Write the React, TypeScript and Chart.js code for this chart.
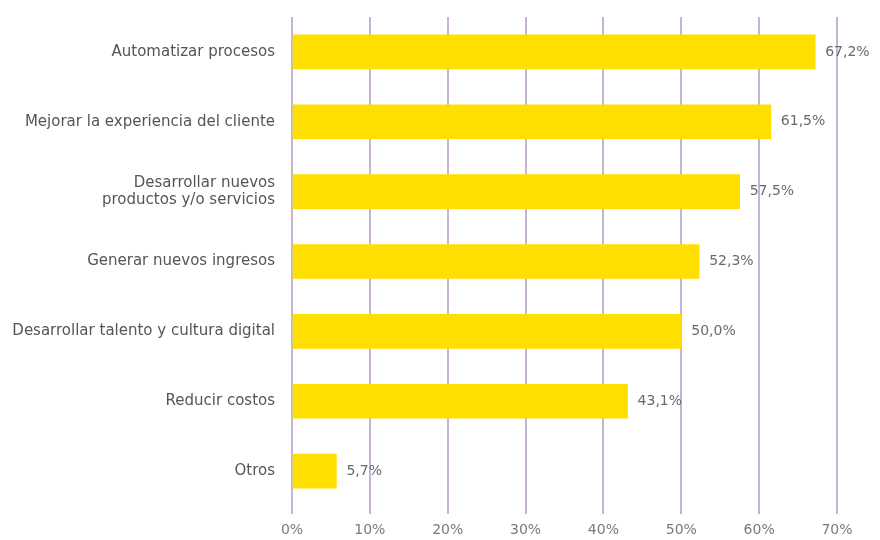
import React, { useEffect, useRef } from "react";
import { Chart, registerables } from "chart.js";

Chart.register(...registerables);

const categories: (string | string[])[] = [
  "Automatizar procesos",
  "Mejorar la experiencia del cliente",
  ["Desarrollar nuevos", "productos y/o servicios"],
  "Generar nuevos ingresos",
  "Desarrollar talento y cultura digital",
  "Reducir costos",
  "Otros",
];
const values: number[] = [67.2, 61.5, 57.5, 52.3, 50.0, 43.1, 5.7];
const xTicks: number[] = [0, 10, 20, 30, 40, 50, 60, 70];

const fmt = (v: number) => v.toFixed(1).replace(".", ",") + "%";

const labelPlugin = {
  id: "valueLabels",
  afterDatasetsDraw(chart: any) {
    const ctx = chart.ctx;
    const meta = chart.getDatasetMeta(0);
    ctx.save();
    ctx.font = "14px 'DejaVu Sans', sans-serif";
    ctx.fillStyle = "#6a6a6a";
    ctx.textBaseline = "middle";
    ctx.textAlign = "left";
    meta.data.forEach((el: any, i: number) => {
      ctx.fillText(fmt(values[i]), el.x + 10, el.y);
    });
    ctx.restore();
  },
};

export default function App() {
  const ref = useRef<HTMLCanvasElement>(null);
  useEffect(() => {
    if (!ref.current) return;
    const chart = new Chart(ref.current, {
      type: "bar",
      data: {
        labels: categories,
        datasets: [
          {
            data: values,
            backgroundColor: "#ffdf00",
            barThickness: 34,
            borderWidth: 0,
          },
        ],
      },
      options: {
        indexAxis: "y",
        animation: false,
        responsive: false,
        maintainAspectRatio: false,
        layout: { padding: { top: 17, right: 43, bottom: 1, left: 0 } },
        plugins: { legend: { display: false }, tooltip: { enabled: false } },
        scales: {
          x: {
            min: 0,
            max: 70,
            afterBuildTicks: (scale: any) => {
              scale.ticks = xTicks.map((v) => ({ value: v }));
            },
            afterFit: (scale: any) => {
              scale.height = 33;
              scale.paddingBottom = 0;
            },
            ticks: {
              callback: (v: any) => v + "%",
              color: "#7a7a7a",
              font: { size: 14, family: "'DejaVu Sans', sans-serif" },
              padding: 8,
            },
            grid: {
              color: "#c9b3d3",
              lineWidth: 2,
              drawTicks: true,
              tickLength: 8,
            },
            border: { display: false },
          },
          y: {
            afterFit: (scale: any) => {
              scale.width = 292;
              scale.paddingTop = 0;
              scale.paddingBottom = 0;
            },
            ticks: {
              color: "#555555",
              font: { size: 15, family: "'DejaVu Sans', sans-serif", lineHeight: 1.15 },
              padding: 17,
            },
            grid: { display: false, drawTicks: false },
            border: { display: false },
          },
        },
      },
      plugins: [labelPlugin],
    });
    return () => chart.destroy();
  }, []);
  return (
    <div style={{ position: "fixed", left: 0, top: 0, width: 880, height: 540, background: "#fff" }}>
      <canvas ref={ref} width={880} height={540} />
    </div>
  );
}
